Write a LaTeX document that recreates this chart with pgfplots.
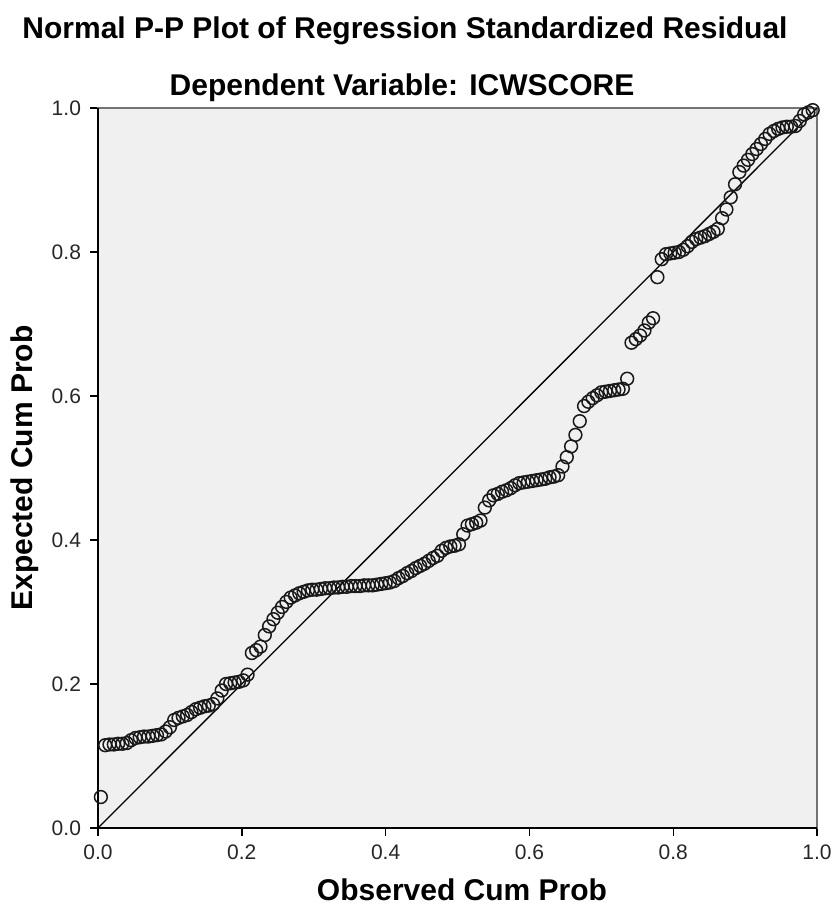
\documentclass[border=0pt]{standalone}
\usepackage{fontspec}
\setmainfont{Liberation Sans}
\usepackage{pgfplots}
\usepackage{pgfplotstable}
\pgfplotsset{compat=1.18}
\definecolor{bg}{RGB}{240,240,240}
\pgfplotstableread{
x y
0.004 0.043
0.010 0.115
0.016 0.116
0.022 0.116
0.028 0.117
0.034 0.117
0.040 0.118
0.046 0.122
0.052 0.125
0.058 0.126
0.064 0.127
0.070 0.127
0.076 0.128
0.082 0.129
0.088 0.130
0.094 0.134
0.100 0.140
0.106 0.150
0.112 0.153
0.118 0.155
0.124 0.157
0.130 0.161
0.136 0.165
0.142 0.167
0.148 0.169
0.154 0.170
0.160 0.172
0.166 0.180
0.172 0.191
0.178 0.200
0.184 0.201
0.190 0.202
0.196 0.203
0.202 0.205
0.208 0.213
0.214 0.243
0.220 0.247
0.226 0.252
0.232 0.268
0.238 0.280
0.244 0.290
0.250 0.299
0.256 0.307
0.262 0.314
0.268 0.320
0.274 0.323
0.280 0.326
0.286 0.328
0.292 0.330
0.298 0.331
0.304 0.331
0.310 0.332
0.316 0.333
0.322 0.333
0.328 0.334
0.334 0.334
0.340 0.335
0.346 0.335
0.352 0.336
0.358 0.336
0.364 0.336
0.370 0.337
0.376 0.337
0.382 0.337
0.388 0.338
0.394 0.339
0.400 0.340
0.406 0.341
0.412 0.343
0.418 0.347
0.424 0.350
0.430 0.354
0.436 0.357
0.442 0.361
0.448 0.364
0.454 0.367
0.460 0.371
0.466 0.375
0.472 0.378
0.478 0.385
0.484 0.389
0.490 0.391
0.496 0.392
0.502 0.394
0.508 0.408
0.514 0.420
0.520 0.422
0.526 0.424
0.532 0.427
0.538 0.445
0.544 0.455
0.550 0.462
0.556 0.464
0.562 0.467
0.568 0.469
0.574 0.472
0.580 0.476
0.586 0.479
0.592 0.480
0.598 0.481
0.604 0.482
0.610 0.483
0.616 0.484
0.622 0.485
0.628 0.487
0.634 0.488
0.640 0.490
0.646 0.502
0.652 0.515
0.658 0.530
0.664 0.546
0.670 0.565
0.676 0.586
0.682 0.592
0.688 0.597
0.694 0.601
0.700 0.605
0.706 0.606
0.712 0.607
0.718 0.608
0.724 0.609
0.730 0.610
0.736 0.624
0.742 0.674
0.748 0.679
0.754 0.684
0.760 0.691
0.766 0.702
0.772 0.708
0.778 0.765
0.784 0.790
0.790 0.797
0.796 0.798
0.802 0.799
0.808 0.800
0.814 0.803
0.820 0.808
0.826 0.814
0.832 0.818
0.838 0.820
0.844 0.822
0.850 0.825
0.856 0.828
0.862 0.832
0.868 0.847
0.874 0.859
0.880 0.876
0.886 0.894
0.892 0.911
0.898 0.920
0.904 0.928
0.910 0.936
0.916 0.943
0.922 0.950
0.928 0.957
0.934 0.964
0.940 0.968
0.946 0.971
0.952 0.973
0.958 0.974
0.964 0.974
0.970 0.975
0.976 0.982
0.982 0.991
0.988 0.994
0.994 0.997
}\ppdata
\begin{document}
\begin{tikzpicture}
\begin{axis}[
  at={(0,0)}, anchor=south west,
  scale only axis,
  width=359.5pt, height=360pt,
  xmin=0, xmax=1, ymin=0, ymax=1,
  axis background/.style={fill=bg},
  axis line style={draw=black!55, line width=0.9pt},
  xtick={0,0.2,0.4,0.6,0.8,1.0},
  ytick={0,0.2,0.4,0.6,0.8,1.0},
  xtick pos=bottom, ytick pos=left,
  tick align=outside,
  major tick length=4pt,
  tick style={black, line width=0.7pt},
  /pgf/number format/assume math mode=true,
  /pgf/number format/fixed,
  /pgf/number format/fixed zerofill,
  /pgf/number format/precision=1,
  ticklabel style={font=\fontsize{10.5}{12}\selectfont, text=black!85},
  xticklabel style={yshift=-1pt},
  yticklabel style={xshift=-1pt},
  clip=false,
]
\draw[black, line width=0.9pt] (rel axis cs:0,1) -- (rel axis cs:0,0) -- (rel axis cs:1,0);
\addplot[black, line width=0.65pt] coordinates {(0,0) (1,1)};
\addplot[only marks, mark=o, mark size=3.2pt, mark options={draw=black!90, line width=0.75pt}] table[x=x, y=y] {\ppdata};
\end{axis}
\node[font=\fontsize{15}{18}\selectfont\bfseries] at (153.5pt,398.5pt) {Normal P-P Plot of Regression Standardized Residual};
\node[font=\fontsize{15}{18}\selectfont\bfseries] at (152pt,370pt) {Dependent Variable: ICWSCORE};
\node[font=\fontsize{15}{18}\selectfont\bfseries] at (182pt,-31pt) {Observed Cum Prob};
\node[font=\fontsize{15}{18}\selectfont\bfseries, rotate=90] at (-36.5pt,180pt) {Expected Cum Prob};
\useasboundingbox (-49pt,-42.5pt) rectangle (368pt,414pt);
\end{tikzpicture}
\end{document}
